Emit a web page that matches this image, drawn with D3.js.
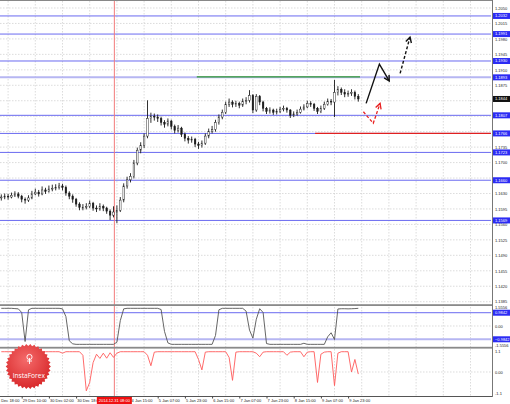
<!DOCTYPE html>
<html><head><meta charset="utf-8">
<script src="https://cdn.jsdelivr.net/npm/d3@7"></script>
<style>html,body{margin:0;padding:0;background:#fff;overflow:hidden}svg{display:block}</style>
</head><body>
<svg id="c" width="510" height="404"></svg>
<script>
// ---------- DATA ----------
const priceTicks = [1.2050,1.2015,1.1980,1.1945,1.1910,1.1875,1.1840,1.1805,1.1770,1.1735,1.1700,1.1665,1.1630,1.1595,1.1560,1.1525,1.1490,1.1455,1.1420,1.1385];
const levelPrices = [1.2032,1.1991,1.1930,1.1807,1.1766,1.1723,1.1660,1.1569];
const lightLevel = 1.1893;
const currentPrice = 1.1844;
const firstOpen = 1.1620;
const closes = [1.1622,1.1624,1.1622,1.1626,1.1629,1.1624,1.1617,1.1615,1.1620,1.1629,
1.1633,1.1629,1.1638,1.1635,1.1640,1.1642,1.1644,1.1647,1.1644,1.1631,
1.1624,1.1617,1.1606,1.1599,1.1599,1.1601,1.1608,1.1597,1.1595,1.1601,
1.1597,1.1590,1.1581,1.1588,1.1592,1.1615,1.1647,1.1661,1.1669,1.1699,
1.1728,1.1739,1.1760,1.1800,1.1805,1.1803,1.1800,1.1791,1.1787,1.1794,
1.1782,1.1773,1.1778,1.1764,1.1755,1.1751,1.1753,1.1742,1.1739,1.1744,
1.1760,1.1771,1.1775,1.1791,1.1803,1.1814,1.1832,1.1837,1.1832,1.1834,
1.1830,1.1839,1.1841,1.1852,1.1819,1.1850,1.1837,1.1823,1.1816,1.1819,
1.1814,1.1816,1.1821,1.1823,1.1819,1.1807,1.1810,1.1814,1.1821,1.1826,
1.1834,1.1832,1.1823,1.1816,1.1823,1.1832,1.1839,1.1837,1.1859,1.1866,
1.1859,1.1855,1.1857,1.1859,1.1850,1.1844];
const highs = [1.1628,1.1630,1.1629,1.1632,1.1635,1.1633,1.1627,1.1621,1.1626,1.1636,
1.1641,1.1638,1.1646,1.1643,1.1648,1.1650,1.1651,1.1654,1.1652,1.1648,
1.1635,1.1628,1.1620,1.1610,1.1606,1.1608,1.1614,1.1611,1.1603,1.1608,
1.1605,1.1600,1.1594,1.1601,1.1603,1.1622,1.1653,1.1668,1.1676,1.1706,
1.1734,1.1746,1.1766,1.1841,1.1813,1.1811,1.1809,1.1804,1.1796,1.1800,
1.1797,1.1786,1.1785,1.1781,1.1768,1.1760,1.1759,1.1756,1.1747,1.1750,
1.1766,1.1777,1.1783,1.1797,1.1809,1.1820,1.1838,1.1845,1.1841,1.1840,
1.1838,1.1845,1.1848,1.1864,1.1855,1.1855,1.1853,1.1840,1.1826,1.1825,
1.1822,1.1822,1.1826,1.1829,1.1826,1.1821,1.1816,1.1820,1.1827,1.1832,
1.1840,1.1839,1.1835,1.1826,1.1829,1.1838,1.1845,1.1844,1.1887,1.1873,
1.1870,1.1866,1.1863,1.1866,1.1863,1.1855];
const lows = [1.1614,1.1617,1.1616,1.1619,1.1622,1.1619,1.1610,1.1607,1.1611,1.1617,
1.1626,1.1623,1.1626,1.1629,1.1632,1.1635,1.1637,1.1639,1.1637,1.1625,
1.1617,1.1609,1.1600,1.1592,1.1592,1.1594,1.1597,1.1591,1.1588,1.1591,
1.1590,1.1584,1.1570,1.1576,1.1563,1.1588,1.1610,1.1641,1.1655,1.1664,
1.1694,1.1721,1.1733,1.1755,1.1790,1.1795,1.1792,1.1784,1.1779,1.1782,
1.1775,1.1766,1.1768,1.1758,1.1748,1.1743,1.1745,1.1735,1.1731,1.1734,
1.1740,1.1755,1.1766,1.1770,1.1786,1.1798,1.1810,1.1826,1.1825,1.1826,
1.1823,1.1826,1.1832,1.1836,1.1812,1.1815,1.1830,1.1816,1.1810,1.1811,
1.1808,1.1809,1.1812,1.1816,1.1813,1.1801,1.1803,1.1806,1.1811,1.1818,
1.1823,1.1826,1.1817,1.1810,1.1812,1.1819,1.1829,1.1830,1.1803,1.1852,
1.1853,1.1848,1.1849,1.1851,1.1843,1.1838];
const osc1 = [1.31,1.31,1.31,1.31,1.29,1.27,1.0,-1.15,1.2,1.31,
1.31,1.31,1.31,1.31,1.31,1.31,1.31,1.31,1.27,0.7,
-1.1,-1.32,-1.36,-1.36,-1.36,-1.36,-1.36,-1.36,-1.36,-1.36,
-1.36,-1.36,-1.36,-1.36,-1.2,0.4,1.27,1.31,1.31,1.31,
1.31,1.31,1.31,1.31,1.31,1.31,1.31,1.22,-0.4,-1.25,
-1.36,-1.36,-1.36,-1.36,-1.36,-1.36,-1.36,-1.36,-1.36,-1.36,
-1.36,-1.36,-1.36,-0.7,1.2,1.31,1.31,1.31,1.31,1.31,
1.31,1.31,1.1,-0.3,-0.9,0.5,1.28,1.0,-1.3,-1.36,
-1.36,-1.36,-1.36,-1.36,-1.36,-1.36,-1.36,-1.36,-1.36,-1.28,
-1.36,-1.36,-1.36,-1.36,-1.36,-1.36,-0.8,-0.5,-1.0,1.26,
1.28,1.28,1.27,1.28,1.29,1.31];
const osc2 = [0.97,0.97,0.97,0.97,0.97,0.9,0.3,0.9,0.97,0.97,
0.97,0.97,0.97,0.97,0.97,0.97,0.97,0.97,0.9,0.97,
0.97,0.97,0.97,0.97,0.8,-0.9,-0.5,0.45,0.85,0.65,
0.9,0.66,0.92,0.7,0.9,0.97,0.97,0.97,0.97,0.97,
0.97,0.97,0.97,0.8,0.3,0.95,0.97,0.97,0.97,0.97,
0.97,0.97,0.97,0.97,0.97,0.97,0.97,0.97,0.6,0.1,
0.95,0.97,0.97,0.97,0.97,0.97,0.97,0.7,-0.4,0.95,
0.97,0.97,0.97,0.97,0.97,0.9,0.73,0.95,0.97,0.97,
0.97,0.97,0.97,0.97,0.8,0.95,0.97,0.97,0.97,0.73,
0.95,0.97,0.97,-0.5,0.85,0.95,0.97,0.97,-0.65,0.9,
0.97,0.97,0.97,0.0,0.6,-0.1];
const ind1Ticks = [1.5556,0,-1.5556];
const ind1TickLabels = ["1.5556","0.00","-1.5556"];
const ind1Levels = [0.9842,-0.9842];
const ind2Ticks = [1.1,0,-1.1];
const ind2TickLabels = ["1.1","0.00","-1.1"];
const labelBars = [-2,6,14,22,30,38,46,54,62,70,78,86,94,102];
const timeLabels = ["28 Dec 18:00","29 Dec 10:00","30 Dec 02:00","30 Dec 18:00","31 Dec 10:00","4 Jan 15:00","5 Jan 07:00","5 Jan 23:00","6 Jan 15:00","7 Jan 07:00","7 Jan 23:00","8 Jan 15:00","9 Jan 07:00","9 Jan 23:00"];
const gridBars = [2,10,18,26,34,42,50,58,66,74,82,90,98,106,114,122,130,138];
const markerBar = 33.25;
const markerLabel = "2014.12.31 08:00";
const greenLine = {start:57.5, end:105.5, price:1.1894};
const redLine = {start:92.3, end:144, price:1.1766};
const solidArrow = [[107.3,1.1834],[111.2,1.1923],[114.1,1.1885]];
const dashedArrow = [[117.3,1.1902],[120.2,1.1984]];
const redArrow = [[106.5,1.1815],[109.4,1.1789],[111.4,1.1834]];

// ---------- SCALES ----------
const svg = d3.select('#c');
const FONT = 'Liberation Sans, Arial, sans-serif';
const x = d3.scaleLinear().domain([0,144]).range([1.3,490.9]);
const y = d3.scaleLinear().domain([1.2050,1.1385]).range([8,301.7]);
const y1 = d3.scaleLinear().domain([-1.5556,1.5556]).range([347,305]);
const y2 = d3.scaleLinear().domain([-1.1,1.1]).range([395,349]);
const R = 491;

svg.append('rect').attr('width',510).attr('height',404).attr('fill','#fff');

// ---------- GRID ----------
const grid = svg.append('g').attr('stroke','#cdcdcd').attr('stroke-width',0.7).attr('stroke-dasharray','1.5,1.5');
gridBars.forEach(b=>{
  grid.append('line').attr('x1',x(b)).attr('x2',x(b)).attr('y1',1).attr('y2',396);
});
priceTicks.forEach(p=>{
  grid.append('line').attr('x1',0).attr('x2',R).attr('y1',y(p)).attr('y2',y(p));
});
grid.append('line').attr('x1',0).attr('x2',R).attr('y1',y1(0)).attr('y2',y1(0));
grid.append('line').attr('x1',0).attr('x2',R).attr('y1',y2(0)).attr('y2',y2(0));

// ---------- LEVELS ----------
svg.append('line').attr('x1',0).attr('x2',R).attr('y1',y(lightLevel)).attr('y2',y(lightLevel))
  .attr('stroke','#b6b6f2').attr('stroke-width',2);
svg.selectAll('.lvl').data(levelPrices).join('line').attr('class','lvl')
  .attr('x1',0).attr('x2',R).attr('y1',d=>y(d)).attr('y2',d=>y(d))
  .attr('stroke','#6a6af0').attr('stroke-width',1);
svg.append('line').attr('x1',x(greenLine.start)).attr('x2',x(greenLine.end))
  .attr('y1',y(greenLine.price)).attr('y2',y(greenLine.price)).attr('stroke','#2e9a2e').attr('stroke-width',1.2);
svg.append('line').attr('x1',x(redLine.start)).attr('x2',Math.min(x(redLine.end),R))
  .attr('y1',y(redLine.price)).attr('y2',y(redLine.price)).attr('stroke','#e02020').attr('stroke-width',1.2);

svg.append('line').attr('x1',0).attr('x2',R).attr('y1',y1(ind1Levels[0])).attr('y2',y1(ind1Levels[0]))
  .attr('stroke','#6a6af0').attr('stroke-width',1);
svg.append('line').attr('x1',0).attr('x2',R).attr('y1',y1(ind1Levels[1])).attr('y2',y1(ind1Levels[1]))
  .attr('stroke','#b6b6f2').attr('stroke-width',2);

// ---------- MARKER LINE ----------
svg.append('line').attr('x1',x(markerBar)).attr('x2',x(markerBar)).attr('y1',0).attr('y2',396)
  .attr('stroke','#f27a7a').attr('stroke-width',1);

// ---------- CANDLES ----------
const bars = closes.map((c,i)=>({i, o: i===0?firstOpen:closes[i-1], c, h: highs[i], l: lows[i]}));
const cg = svg.append('g');
cg.selectAll('.wick').data(bars).join('line').attr('class','wick')
  .attr('x1',d=>x(d.i)).attr('x2',d=>x(d.i)).attr('y1',d=>y(d.h)).attr('y2',d=>y(d.l))
  .attr('stroke','#1a1a1a').attr('stroke-width',0.9);
cg.selectAll('.body').data(bars).join('rect').attr('class','body')
  .attr('x',d=>x(d.i)-0.8).attr('width',1.6)
  .attr('y',d=>y(Math.max(d.o,d.c))).attr('height',d=>Math.max(0.8,Math.abs(y(d.o)-y(d.c))))
  .attr('fill',d=>d.c>=d.o?'#fff':'#1a1a1a').attr('stroke','#1a1a1a').attr('stroke-width',0.45);

// ---------- ARROWS ----------
function arrow(pts, color, dash, w){
  const line = d3.line().x(d=>x(d[0])).y(d=>y(d[1]));
  svg.append('path').attr('d',line(pts)).attr('fill','none').attr('stroke',color)
    .attr('stroke-width',w).attr('stroke-dasharray',dash||null).attr('stroke-linejoin','miter');
  const a=pts[pts.length-2], b=pts[pts.length-1];
  const ax=x(a[0]), ay=y(a[1]), bx=x(b[0]), by=y(b[1]);
  const ang=Math.atan2(by-ay,bx-ax), L=6, s=0.5;
  const p1=[bx-L*Math.cos(ang-s), by-L*Math.sin(ang-s)];
  const p2=[bx-L*Math.cos(ang+s), by-L*Math.sin(ang+s)];
  svg.append('path').attr('d',`M${p1[0]},${p1[1]}L${bx},${by}L${p2[0]},${p2[1]}`)
    .attr('fill','none').attr('stroke',color).attr('stroke-width',w);
}
arrow(solidArrow,'#111',null,1.4);
arrow(dashedArrow,'#111','3,2',1.4);
arrow(redArrow,'#e82020','3,2',1.3);

// ---------- INDICATORS ----------
svg.append('path').datum(osc1).attr('d',d3.line().x((d,i)=>x(i)).y(d=>y1(d)))
  .attr('fill','none').attr('stroke','#555').attr('stroke-width',0.9);
svg.append('path').datum(osc2).attr('d',d3.line().x((d,i)=>x(i)).y(d=>y2(d)))
  .attr('fill','none').attr('stroke','#ff5a5a').attr('stroke-width',0.9);

// ---------- FRAME ----------
svg.append('line').attr('x1',0).attr('x2',R+1).attr('y1',0.5).attr('y2',0.5).attr('stroke','#888');
svg.append('rect').attr('x',0).attr('y',304.2).attr('width',R+1).attr('height',1.8).attr('fill','#8a8a8a');
svg.append('rect').attr('x',0).attr('y',346.8).attr('width',R+1).attr('height',1.8).attr('fill','#8a8a8a');
svg.append('line').attr('x1',0).attr('x2',R+1).attr('y1',396.5).attr('y2',396.5).attr('stroke','#555');
svg.append('line').attr('x1',492.5).attr('x2',492.5).attr('y1',0).attr('y2',397).attr('stroke','#777');

// ---------- LOGO ----------
const defs = svg.append('defs');
const rg = defs.append('radialGradient').attr('id','lg').attr('cx','45%').attr('cy','35%').attr('r','65%');
rg.append('stop').attr('offset','0%').attr('stop-color','#f46a6a');
rg.append('stop').attr('offset','100%').attr('stop-color','#d8282a');
const cx0=28.3, cy0=366.5, nT=34;
const star = d3.range(nT*2).map(k=>{const r=k%2?20.6:22.6; const a=k*Math.PI/nT; return [cx0+r*Math.cos(a), cy0+r*Math.sin(a)];});
svg.append('path').attr('d',d3.line().curve(d3.curveLinearClosed)(star)).attr('fill','url(#lg)');
const icon = svg.append('g').attr('stroke','#fff').attr('fill','none').attr('stroke-width',0.9);
icon.append('circle').attr('cx',29.5).attr('cy',357).attr('r',2.6);
icon.append('line').attr('x1',29.5).attr('x2',29.5).attr('y1',358).attr('y2',364);
icon.append('line').attr('x1',27).attr('x2',32).attr('y1',361).attr('y2',361);
svg.append('text').attr('x',28.8).attr('y',377.5).attr('text-anchor','middle')
  .attr('font-family','Open Sans, Liberation Sans, sans-serif').attr('font-size',6.6).attr('fill','#fff').text('InstaForex');

// ---------- AXES ----------
const boxYs = levelPrices.concat([lightLevel, currentPrice]).map(p=>y(p));
function styleAxis(g){
  g.select('.domain').remove();
  g.selectAll('text').attr('font-size',4).attr('font-family',FONT).attr('fill','#222');
  g.selectAll('line').attr('stroke','#444');
}
const ya = svg.append('g').attr('transform','translate(492.5,0)')
  .call(d3.axisRight(y).tickValues(priceTicks).tickFormat(d3.format('.4f')).tickSize(0).tickPadding(2.5)).call(styleAxis);
// labels fully hidden behind a value box are not shown (as in the reference)
ya.selectAll('.tick').filter(d=>boxYs.some(b=>Math.abs(b-y(d))<3)).remove();
svg.append('g').attr('transform','translate(492.5,0)')
  .call(d3.axisRight(y1).tickValues(ind1Ticks).tickFormat((d,i)=>ind1TickLabels[i]).tickSize(0).tickPadding(2.5)).call(styleAxis)
  .selectAll('.tick text').attr('dy',(d,i)=>i===0?'0.85em':(i===2?'-0.25em':'0.32em'));
svg.append('g').attr('transform','translate(492.5,0)')
  .call(d3.axisRight(y2).tickValues(ind2Ticks).tickFormat((d,i)=>ind2TickLabels[i]).tickSize(0).tickPadding(2.5)).call(styleAxis)
  .selectAll('.tick text').attr('dy',(d,i)=>i===0?'0.8em':(i===2?'-0.1em':'0.32em'));

const mx = x(markerBar);
const xg = svg.append('g').attr('transform','translate(0,396.5)')
  .call(d3.axisBottom(x).tickValues(labelBars).tickFormat((d,i)=>timeLabels[i]).tickSize(2).tickPadding(1)).call(styleAxis);
xg.selectAll('.tick text').attr('text-anchor','start').attr('x',0.6);
// the label fully under the marker's time box is hidden (as in the reference)
xg.selectAll('.tick').filter(d=>x(d)>mx-17.5 && x(d)+24<mx+17.5).select('text').remove();

function valBox(yy, txt, fill){
  svg.append('rect').attr('x',493).attr('y',yy-3).attr('width',17).attr('height',6).attr('fill',fill);
  svg.append('text').attr('x',495).attr('y',yy+1.4).attr('font-size',4).attr('font-family',FONT).attr('fill','#fff').text(txt);
}
levelPrices.concat([lightLevel]).forEach(p=>valBox(y(p), d3.format('.4f')(p), '#2c2cf4'));
valBox(y(currentPrice), d3.format('.4f')(currentPrice), '#111');
ind1Levels.forEach(v=>valBox(y1(v), d3.format('.4f')(v), '#2c2cf4'));

svg.append('rect').attr('x',mx-17.5).attr('y',397).attr('width',35).attr('height',7).attr('fill','#f01010');
svg.append('text').attr('x',mx).attr('y',402).attr('text-anchor','middle').attr('font-size',4)
  .attr('font-family',FONT).attr('fill','#fff').text(markerLabel);
</script>
</body></html>
